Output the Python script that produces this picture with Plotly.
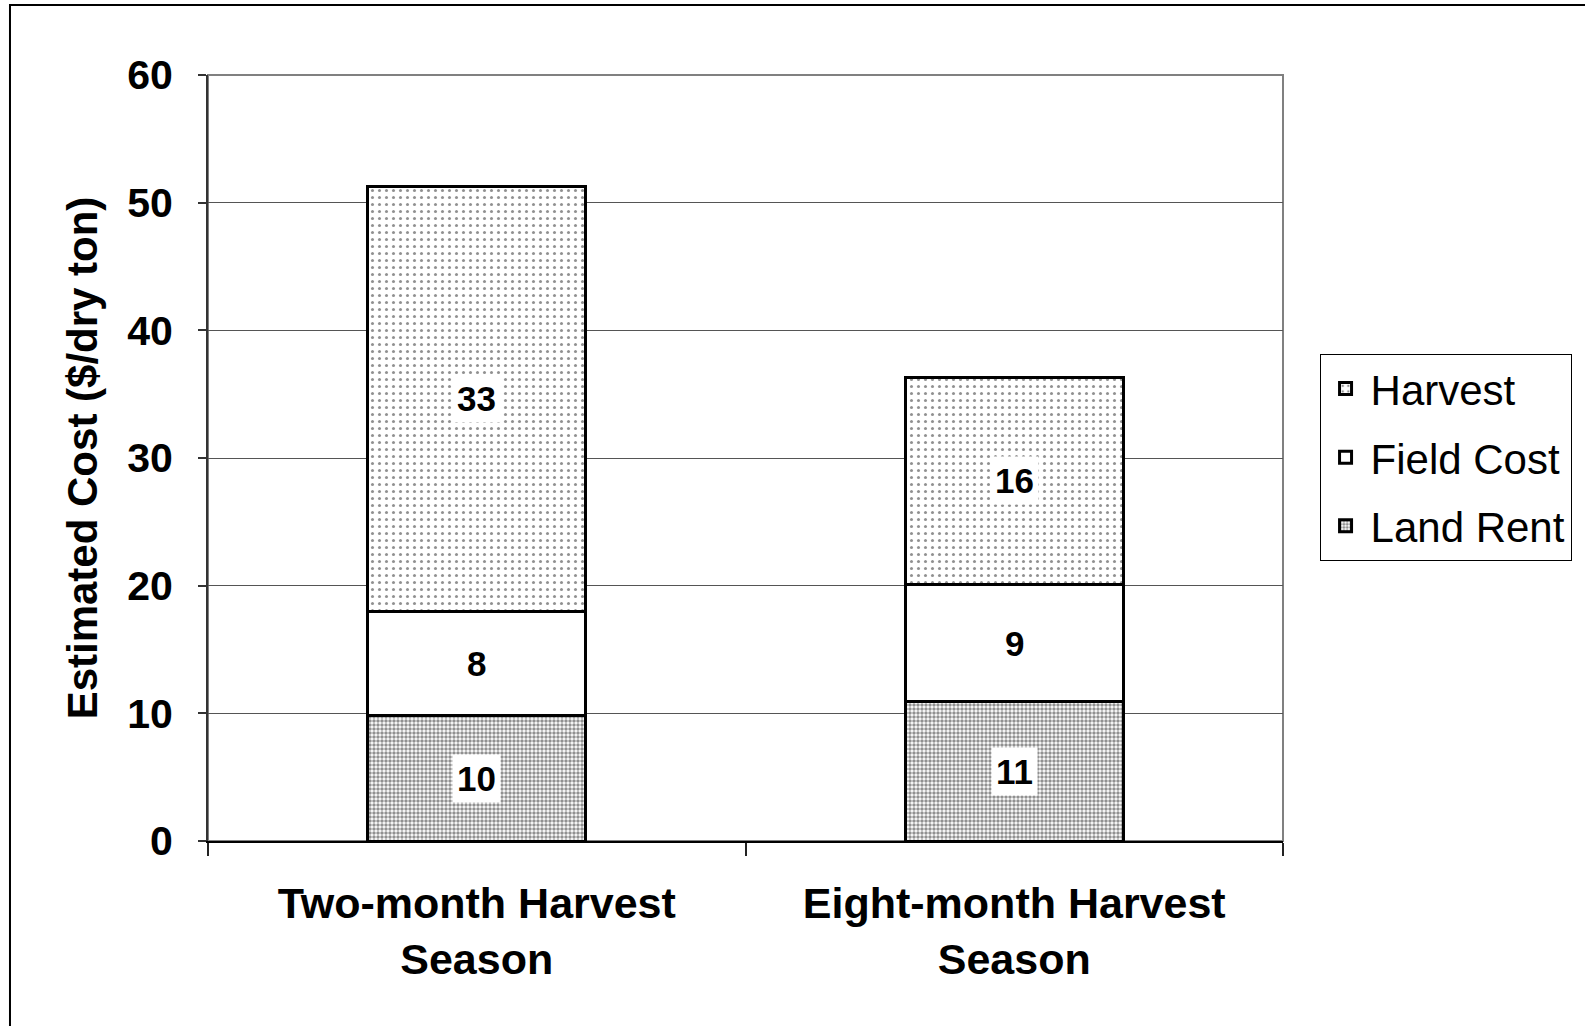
import plotly.graph_objects as go

categories = ["Two-month Harvest<br>Season", "Eight-month Harvest<br>Season"]
land_rent = [9.8, 10.9]
field_cost = [8.2, 9.2]
harvest = [33.3, 16.2]
y_ticks = [0, 10, 20, 30, 40, 50, 60]

FONT = "Liberation Sans, Arial, sans-serif"

fig = go.Figure()
fig.add_trace(go.Bar(
    name="Land Rent", x=categories, y=land_rent, legendgroup="lr", legendrank=3,
    marker=dict(color="white", line=dict(color="black", width=3),
                pattern=dict(shape=".", size=4, solidity=0.6, fgcolor="#222", bgcolor="white")),
    width=0.405,
))
fig.add_trace(go.Bar(
    name="Field Cost", x=categories, y=field_cost, legendgroup="fc", legendrank=2,
    marker=dict(color="white", line=dict(color="black", width=3)),
    width=0.405,
))
fig.add_trace(go.Bar(
    name="Harvest", x=categories, y=harvest, legendgroup="hv", legendrank=1,
    marker=dict(color="white", line=dict(color="black", width=3),
                pattern=dict(shape=".", size=7, solidity=0.15, fgcolor="#222", bgcolor="white")),
    width=0.405,
))

# value labels at segment midpoints
for i, c in enumerate(categories):
    base = 0
    for series in (land_rent, field_cost, harvest):
        v = series[i]
        fig.add_annotation(
            x=c, y=base + v / 2, text=f"<b>{v:.0f}</b>", showarrow=False,
            font=dict(family=FONT, size=35, color="black"),
            bgcolor="white", borderpad=4,
        )
        base += v

fig.update_layout(
    width=1585, height=1026,
    barmode="stack",
    paper_bgcolor="white", plot_bgcolor="white",
    margin=dict(l=208, r=302, t=75, b=185),
    font=dict(family=FONT, color="black"),
    showlegend=True,
    legend=dict(
        x=1.034, y=0.636, xanchor="left", yanchor="top",
        traceorder="grouped", tracegroupgap=11, itemwidth=40,
        bordercolor="black", borderwidth=1, bgcolor="white",
        font=dict(family=FONT, size=42, color="black"),
    ),
    xaxis=dict(
        showline=True, linecolor="black", linewidth=2,
        ticks="outside", tickson="boundaries", ticklen=13, tickcolor="#222", tickwidth=2,
        tickfont=dict(family=FONT, size=43, color="black", weight="bold"),
        ticklabelstandoff=23,
        showgrid=False,
    ),
    yaxis=dict(
        range=[0, 60], tickvals=y_ticks,
        showline=True, linecolor="#333", linewidth=2,
        ticks="outside", ticklen=8, tickcolor="#333", tickwidth=2,
        showgrid=True, gridcolor="#555", gridwidth=1,
        tickfont=dict(family=FONT, size=41, color="black", weight="bold"),
        ticklabelstandoff=17,
        title=dict(text="Estimated Cost ($/dry ton)", standoff=16,
                   font=dict(family=FONT, size=42, color="black", weight="bold")),
        zeroline=False,
    ),
    shapes=[
        dict(type="rect", xref="paper", yref="paper", x0=0, x1=1, y0=0, y1=1,
             line=dict(color="#808080", width=2), layer="below"),
        dict(type="rect", xref="paper", yref="paper",
             x0=-0.1842, x1=1.2853, y0=-0.2467, y1=1.0914,
             line=dict(color="black", width=2), layer="below"),
    ],
)

fig.write_html("out.html", config={"displayModeBar": False},
               post_script="document.body.style.margin='0';")
